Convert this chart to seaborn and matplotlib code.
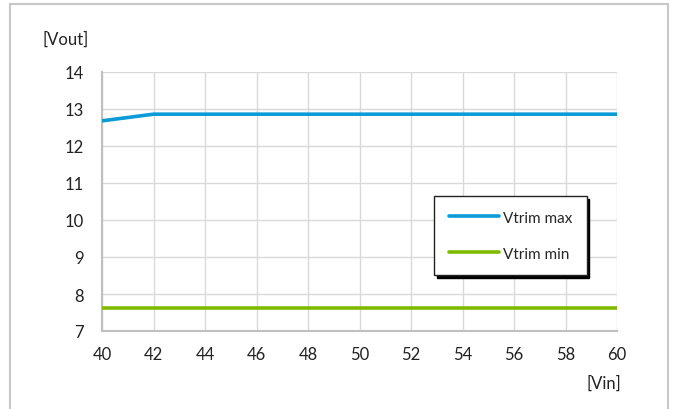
import matplotlib
matplotlib.use("Agg")
import matplotlib.pyplot as plt
from matplotlib.patches import Rectangle
import seaborn as sns
import pandas as pd

# Input voltage sweep and the trimmed output voltage limits
vin = [40, 42, 44, 46, 48, 50, 52, 54, 56, 58, 60]
vtrim_max = [12.68, 12.86, 12.86, 12.86, 12.86, 12.86, 12.86, 12.86, 12.86, 12.86, 12.86]
vtrim_min = [7.63, 7.63, 7.63, 7.63, 7.63, 7.63, 7.63, 7.63, 7.63, 7.63, 7.63]
series_names = ["Vtrim max", "Vtrim min"]
x_ticks = list(range(40, 61, 2))
y_ticks = list(range(7, 15))

df = pd.DataFrame({
    "Vin": vin * 2,
    "Vout": vtrim_max + vtrim_min,
    "series": [series_names[0]] * len(vin) + [series_names[1]] * len(vin),
})

sns.set_theme(style="white")
plt.rcParams["font.family"] = ["Lato", "DejaVu Sans"]

fig = plt.figure(figsize=(6.75, 4.10), dpi=100)
ax = fig.add_axes([102 / 675, 1 - 332 / 410, 515 / 675, 259 / 410])

# Outer chart-area frame
fig.patches.append(Rectangle((10 / 675, -0.05), 658 / 675, 1 - 5 / 410 + 0.05,
                             transform=fig.transFigure, fill=False,
                             edgecolor="#C8C8C8", linewidth=1.5, zorder=0))

palette = {series_names[0]: "#0A9BD8", series_names[1]: "#7FBA00"}
sns.lineplot(data=df, x="Vin", y="Vout", hue="series", palette=palette,
             linewidth=2.6, ax=ax, legend=False, zorder=3)

ax.set_xlim(40, 60)
ax.set_ylim(7, 14)
ax.set_xticks(x_ticks)
ax.set_yticks(y_ticks)
ax.grid(True, color="#D9D9D9", linewidth=1.0)
ax.set_xlabel("")
ax.set_ylabel("")
for side in ["top", "right"]:
    ax.spines[side].set_visible(False)
for side in ["left", "bottom"]:
    ax.spines[side].set_color("#BFBFBF")
    ax.spines[side].set_linewidth(1.5)
ax.tick_params(axis="both", length=0, labelsize=12, colors="#222222")
ax.tick_params(axis="x", pad=11)
ax.tick_params(axis="y", pad=13)

fig.text(42 / 675, 1 - 40 / 410, "[Vout]", fontsize=12, color="#222222",
         ha="left", va="center")
fig.text(621 / 675, 1 - 384 / 410, "[Vin]", fontsize=12, color="#222222",
         ha="right", va="center")

handles = [plt.Line2D([], [], color=palette[n], linewidth=2.6) for n in series_names]
leg = ax.legend(handles, series_names, loc="upper left",
                bbox_to_anchor=((434 - 102) / 515, (332 - 197) / 259),
                fontsize=11, frameon=True, fancybox=False, framealpha=1,
                edgecolor="#222222", handlelength=3.3, handletextpad=0.25,
                labelspacing=1.45, borderpad=0.95, borderaxespad=0,
                shadow={"color": "black", "alpha": 1.0})
leg.get_frame().set_linewidth(1.0)

fig.savefig("out.png", dpi=100)
